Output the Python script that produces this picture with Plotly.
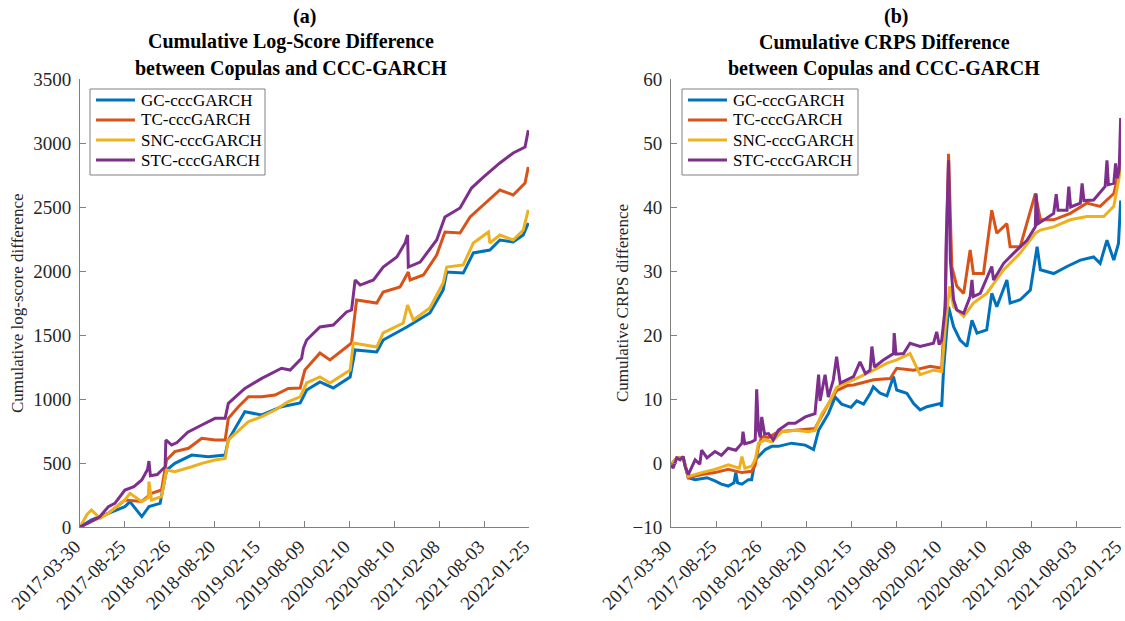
import plotly.graph_objects as go

# ---------------- shared x axis (observation index) ----------------
tick_obs = [0, 125, 250, 375, 500, 625, 750, 875, 1000, 1125, 1250]
tick_labels = ["2017-03-30", "2017-08-25", "2018-02-26", "2018-08-20", "2019-02-15",
               "2019-08-09", "2020-02-10", "2020-08-10", "2021-02-08", "2021-08-03",
               "2022-01-25"]

series_names = ["GC-cccGARCH", "TC-cccGARCH", "SNC-cccGARCH", "STC-cccGARCH"]
colors = ["#0072BD", "#D95319", "#EDB120", "#7E2F8E"]

# ---------------- (a) cumulative log-score difference ----------------
ls_gc_x = [0, 32, 79, 125, 139, 172, 192, 223, 241, 264, 311, 357, 404, 413, 459, 506, 561,
           613, 631, 668, 705, 752, 766, 826, 844, 910, 974, 1011, 1021, 1067, 1095, 1141,
           1169, 1206, 1234, 1248]
ls_gc_y = [0, 55, 107, 159, 198, 81, 159, 185, 445, 497, 562, 549, 562, 680, 901, 875, 940,
           969, 1070, 1133, 1086, 1172, 1383, 1367, 1461, 1563, 1672, 1852, 1992, 1984, 2141,
           2164, 2242, 2227, 2281, 2375]

ls_tc_x = [0, 32, 79, 125, 162, 172, 199, 227, 241, 264, 302, 339, 376, 404, 413, 441, 469,
           506, 543, 580, 613, 626, 668, 696, 742, 756, 770, 826, 844, 891, 914, 919, 956,
           993, 1016, 1058, 1086, 1114, 1169, 1206, 1239, 1248]
ls_tc_y = [0, 45, 107, 211, 198, 200, 263, 289, 523, 589, 615, 693, 680, 680, 849, 940, 1018,
           1018, 1031, 1083, 1086, 1226, 1359, 1305, 1406, 1438, 1773, 1750, 1836, 1875, 1992,
           1930, 1969, 2125, 2305, 2297, 2422, 2492, 2633, 2594, 2688, 2813]

ls_snc_x = [0, 20, 32, 56, 79, 125, 139, 172, 190, 192, 199, 227, 241, 264, 311, 339, 376,
            404, 413, 469, 506, 543, 580, 613, 631, 668, 696, 752, 761, 826, 844, 900, 912,
            928, 974, 1011, 1021, 1067, 1095, 1137, 1141, 1169, 1206, 1234, 1248]
ls_snc_y = [0, 100, 133, 68, 107, 211, 263, 198, 230, 354, 211, 237, 445, 432, 471, 497, 523,
            536, 680, 823, 862, 914, 979, 1016, 1125, 1172, 1125, 1226, 1438, 1406, 1516, 1594,
            1734, 1617, 1711, 1906, 2031, 2047, 2219, 2305, 2219, 2281, 2242, 2320, 2477]

ls_stc_x = [0, 32, 55, 79, 97, 125, 150, 172, 188, 192, 196, 215, 237, 239, 255, 270, 300,
            339, 376, 404, 413, 459, 506, 561, 585, 617, 622, 631, 668, 705, 742, 756, 766,
            780, 817, 844, 882, 905, 912, 914, 947, 993, 1016, 1058, 1090, 1123, 1169, 1206,
            1239, 1248]
ls_stc_y = [0, 50, 80, 159, 185, 289, 315, 367, 450, 515, 400, 410, 471, 680, 640, 660, 740,
            797, 849, 849, 966, 1083, 1161, 1240, 1226, 1318, 1398, 1461, 1563, 1578, 1680,
            1695, 1930, 1890, 1930, 2031, 2109, 2219, 2281, 2031, 2070, 2242, 2422, 2492, 2648,
            2734, 2844, 2922, 2969, 3100]

# ---------------- (b) cumulative CRPS difference ----------------
cr_gc_x = [0, 16, 34, 48, 67, 100, 122, 140, 159, 175, 180, 185, 197, 215, 224, 234, 262, 280,
           298, 335, 373, 396, 410, 437, 456, 474, 500, 516, 535, 553, 562, 581, 600, 618, 627,
           655, 674, 692, 711, 748, 752, 757, 771, 785, 803, 822, 836, 850, 877, 891, 905, 933,
           942, 970, 998, 1017, 1026, 1063, 1100, 1137, 1174, 1192, 1211, 1230, 1243, 1249]
cr_gc_y = [-0.3, 0.8, 0.8, -2.3, -2.6, -2.3, -2.8, -3.3, -3.6, -3.1, -1.5, -3.1, -3.3, -2.6,
           -2.6, 0.5, 2.1, 2.6, 2.6, 3.1, 2.8, 2.1, 5.1, 7.7, 10.3, 9.2, 8.7, 9.7, 9.2, 10.8,
           11.9, 10.9, 10.5, 13.5, 11.4, 10.9, 9.3, 8.3, 8.8, 9.3, 8.8, 14.5, 24.4, 21.3, 19.2,
           18.2, 22.3, 20.3, 20.8, 26.5, 24.4, 28.6, 25.0, 25.5, 27.0, 33.8, 30.2, 29.6, 30.7,
           31.7, 32.2, 31.2, 34.8, 31.7, 34.3, 41.0]

cr_tc_x = [0, 16, 34, 48, 85, 122, 159, 197, 224, 234, 243, 252, 271, 298, 345, 400, 437, 460,
           490, 507, 563, 609, 627, 674, 720, 752, 762, 771, 780, 794, 813, 831, 840, 868, 891,
           905, 933, 942, 970, 1012, 1026, 1063, 1109, 1155, 1192, 1230, 1239, 1245, 1249]
cr_tc_y = [-0.3, 0.8, 0.8, -2.3, -1.8, -1.5, -1.0, -1.5, -1.3, -0.3, 2.6, 4.1, 4.0, 4.9, 5.1,
           5.4, 9.2, 11.3, 12.1, 12.2, 13.0, 13.2, 14.8, 14.5, 15.1, 14.8, 25.5, 48.3, 30.7,
           27.6, 26.5, 33.3, 29.6, 29.6, 39.5, 35.9, 37.4, 33.8, 33.8, 42.1, 38.0, 38.0, 39.0,
           40.6, 40.1, 42.1, 44.2, 45.8, 48.5]

cr_snc_x = [0, 16, 34, 48, 85, 122, 159, 190, 197, 205, 224, 234, 243, 262, 280, 308, 345, 382,
            400, 419, 437, 460, 474, 507, 563, 600, 627, 664, 692, 729, 752, 762, 774, 785, 813,
            840, 877, 924, 970, 1012, 1026, 1063, 1109, 1155, 1202, 1230, 1245, 1249]
cr_snc_y = [-0.3, 0.8, 0.8, -2.1, -1.5, -1.0, -0.3, -0.8, 1.0, -0.8, -0.5, 0.5, 3.1, 3.6, 3.3,
            4.9, 5.1, 4.9, 5.1, 7.7, 9.2, 11.8, 12.3, 13.0, 14.5, 15.6, 16.1, 17.1, 13.8, 14.5,
            14.3, 21.3, 27.6, 24.4, 22.9, 25.0, 26.5, 30.2, 32.8, 35.9, 36.4, 36.9, 38.0, 38.5,
            38.5, 40.1, 44.7, 46.5]

cr_stc_x = [0, 6, 16, 25, 34, 39, 48, 67, 80, 85, 100, 122, 140, 159, 180, 197, 200, 205, 224,
            234, 238, 243, 248, 252, 260, 271, 284, 298, 326, 345, 373, 400, 410, 414, 428, 437,
            451, 460, 470, 507, 525, 540, 553, 558, 565, 590, 618, 620, 625, 646, 664, 692, 729,
            738, 745, 752, 762, 764, 771, 776, 785, 794, 813, 831, 836, 840, 859, 891, 896, 924,
            952, 989, 1012, 1014, 1020, 1063, 1070, 1075, 1100, 1105, 1110, 1137, 1142, 1147,
            1174, 1206, 1211, 1215, 1230, 1235, 1240, 1245, 1249]
cr_stc_y = [-0.3, -0.8, 0.8, 0.5, 1.0, -0.5, -1.8, 0.5, -0.2, 2.0, 0.8, 1.8, 1.2, 2.3, 2.0, 3.1,
            4.9, 3.0, 3.3, 3.6, 11.5, 5.1, 4.0, 7.2, 4.5, 4.6, 3.6, 5.1, 6.2, 6.2, 7.2, 7.7,
            13.8, 9.7, 13.8, 10.3, 13.0, 16.6, 12.5, 13.5, 15.8, 14.0, 14.5, 18.2, 15.0, 16.1,
            17.1, 20.3, 17.0, 17.1, 18.7, 18.2, 18.7, 20.5, 18.5, 19.2, 24.4, 33.8, 47.3, 31.7,
            25.5, 23.9, 23.4, 26.0, 28.6, 26.0, 26.5, 30.7, 28.6, 31.2, 32.8, 34.8, 36.9, 42.1,
            37.4, 39.0, 42.0, 39.5, 39.5, 43.2, 40.0, 40.6, 43.7, 41.0, 41.1, 43.2, 47.3, 43.5,
            43.7, 46.8, 44.5, 45.8, 53.9]

panel_a = [(ls_gc_x, ls_gc_y), (ls_tc_x, ls_tc_y), (ls_snc_x, ls_snc_y), (ls_stc_x, ls_stc_y)]
panel_b = [(cr_gc_x, cr_gc_y), (cr_tc_x, cr_tc_y), (cr_snc_x, cr_snc_y), (cr_stc_x, cr_stc_y)]

SERIF = "Liberation Serif"
AXIS_GREY = "#808080"
W, H = 1125, 621

fig = go.Figure()
for (xs, ys), name, col in zip(panel_a, series_names, colors):
    fig.add_trace(go.Scatter(x=xs, y=ys, mode="lines", name=name, showlegend=False,
                             line=dict(color=col, width=3), xaxis="x", yaxis="y"))
for (xs, ys), name, col in zip(panel_b, series_names, colors):
    fig.add_trace(go.Scatter(x=xs, y=ys, mode="lines", name=name, showlegend=False,
                             line=dict(color=col, width=3), xaxis="x2", yaxis="y2"))

y_dom = [(H - 527) / H, (H - 79) / H]


def x_axis(dom, anchor):
    return dict(domain=dom, anchor=anchor, range=[0, 1250], tickvals=tick_obs,
                ticktext=tick_labels, tickangle=-45, ticks="inside", ticklen=6,
                tickcolor=AXIS_GREY, showline=True, linecolor=AXIS_GREY, linewidth=1,
                showgrid=False, zeroline=False, automargin=False,
                ticklabeloverflow="allow", ticklabelshift=-5,
                tickfont=dict(family=SERIF, size=19, color="#262626"))


def y_axis(anchor, rng, dtick):
    return dict(domain=y_dom, anchor=anchor, range=rng, dtick=dtick, ticks="inside",
                ticklen=6, tickcolor=AXIS_GREY, showline=True, linecolor=AXIS_GREY,
                linewidth=1, showgrid=False, zeroline=False, automargin=False,
                ticklabelstandoff=4,
                tickfont=dict(family=SERIF, size=19, color="#262626"))


def px_x(v):
    return v / W


def px_y(v):
    return 1 - v / H


annotations = []
shapes = []

# panel titles: first line centred on the axes, the two text lines slightly left of it
for cx_a, cx_t, lines in [(304, 291, ["(a)", "Cumulative Log-Score Difference",
                                      "between Copulas and CCC-GARCH"]),
                          (896, 884, ["(b)", "Cumulative CRPS Difference",
                                      "between Copulas and CCC-GARCH"])]:
    for i, (txt, ypx) in enumerate(zip(lines, [16, 42, 68])):
        annotations.append(dict(text="<b>" + txt + "</b>", x=px_x(cx_a if i == 0 else cx_t),
                                y=px_y(ypx), xref="paper", yref="paper", xanchor="center",
                                yanchor="middle", showarrow=False,
                                font=dict(family=SERIF, size=20, color="#000000")))

for txt, xpx in [("Cumulative log-score difference", 18), ("Cumulative CRPS difference", 623)]:
    annotations.append(dict(text=txt, x=px_x(xpx), y=px_y(303), xref="paper", yref="paper",
                            xanchor="center", yanchor="middle", textangle=-90,
                            showarrow=False,
                            font=dict(family=SERIF, size=17, color="#262626")))

# legend boxes drawn in pixel units of the page
for bx0, bx1 in [(90, 265), (682, 858)]:
    shapes.append(dict(type="rect", xref="paper", yref="paper",
                       x0=px_x(bx0), x1=px_x(bx1), y0=px_y(175), y1=px_y(89),
                       line=dict(color=AXIS_GREY, width=1), fillcolor="white", layer="above"))
    for k, (name, col) in enumerate(zip(series_names, colors)):
        row = 100 + 20 * k
        shapes.append(dict(type="line", xref="paper", yref="paper",
                           x0=px_x(bx0 + 6), x1=px_x(bx0 + 45), y0=px_y(row), y1=px_y(row),
                           line=dict(color=col, width=3), layer="above"))
        annotations.append(dict(text=name, x=px_x(bx0 + 49), y=px_y(row), xref="paper",
                                yref="paper", xanchor="left", yanchor="middle",
                                showarrow=False,
                                font=dict(family=SERIF, size=17, color="#000000")))

fig.update_layout(
    width=W, height=H, autosize=False,
    margin=dict(l=0, r=0, t=0, b=0, autoexpand=False),
    paper_bgcolor="white", plot_bgcolor="white",
    xaxis=x_axis([80 / W, 529 / W], "y"),
    yaxis=y_axis("x", [0, 3500], 500),
    xaxis2=x_axis([671 / W, 1121 / W], "y2"),
    yaxis2=y_axis("x2", [-10, 60], 10),
    annotations=annotations,
    shapes=shapes,
    showlegend=False,
)

fig.write_html("out.html")
